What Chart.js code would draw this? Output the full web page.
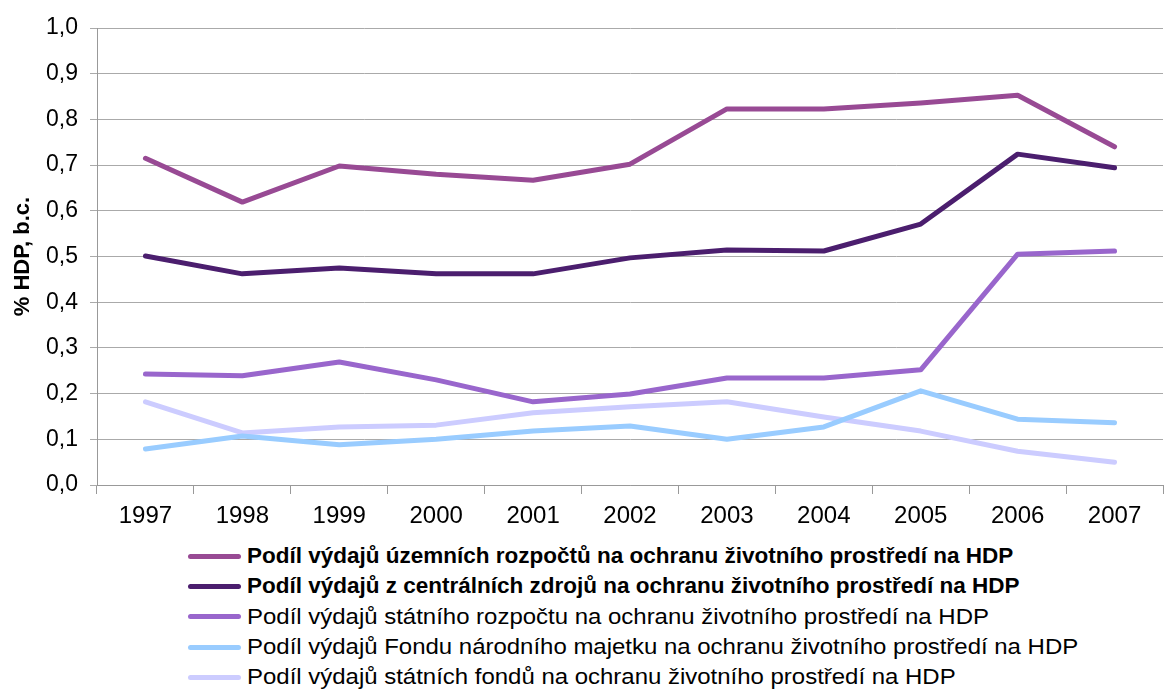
<!DOCTYPE html>
<html>
<head>
<meta charset="utf-8">
<script src="https://cdn.jsdelivr.net/npm/chart.js@4"></script>
<style>
    body { margin: 0; background: #fff; font-family: "Liberation Sans", Arial, sans-serif; }
    #wrap { position: relative; width: 1171px; height: 689px; }
    #legend { position: absolute; left: 188px; top: 541px; }
    .item { display: flex; align-items: center; height: 30.3px; font-size: 22.5px; color: #000; white-space: nowrap; }
    .item .line { display: inline-block; width: 53px; height: 5px; border-radius: 3px; margin-right: 6px; flex: none; }
    .item.bold { font-weight: bold; }
    .item.regular .txt { display: inline-block; transform: scaleX(1.065); transform-origin: left center; }
</style>
</head>
<body>
<div id="wrap">
    <canvas id="hdpChart" width="1171" height="540"></canvas>
    <div id="legend"></div>
</div>
<script>
// Roky (kategorie osy x)
const years = ['1997', '1998', '1999', '2000', '2001', '2002', '2003', '2004', '2005', '2006', '2007'];

// Hodnoty (% HDP)
const uzemniRozpocty = [0.715, 0.619, 0.698, 0.680, 0.667, 0.702, 0.823, 0.823, 0.836, 0.853, 0.740];
const centralniZdroje = [0.501, 0.462, 0.475, 0.462, 0.462, 0.497, 0.514, 0.512, 0.571, 0.724, 0.694];
const statniRozpocet = [0.243, 0.239, 0.269, 0.230, 0.182, 0.199, 0.234, 0.234, 0.252, 0.505, 0.512];
const fondNarMajetku = [0.079, 0.107, 0.088, 0.100, 0.118, 0.129, 0.100, 0.127, 0.206, 0.144, 0.136];
const statniFondy = [0.182, 0.114, 0.127, 0.131, 0.158, 0.171, 0.182, 0.149, 0.118, 0.074, 0.050];

// Popisky řad
const seriesLabels = [
    'Podíl výdajů územních rozpočtů na ochranu životního prostředí na HDP',
    'Podíl výdajů z centrálních zdrojů na ochranu životního prostředí na HDP',
    'Podíl výdajů státního rozpočtu na ochranu životního prostředí na HDP',
    'Podíl výdajů Fondu národního majetku na ochranu životního prostředí na HDP',
    'Podíl výdajů státních fondů na ochranu životního prostředí na HDP'
];
const seriesColors = ['#984A94', '#4B1E6E', '#9966CC', '#99CCFF', '#CCCCFF'];
const boldSeries = [true, true, false, false, false];

const seriesData = [uzemniRozpocty, centralniZdroje, statniRozpocet, fondNarMajetku, statniFondy];

const datasets = seriesData.map((data, i) => ({
    label: seriesLabels[i],
    data: data,
    borderColor: seriesColors[i],
    backgroundColor: seriesColors[i],
    borderWidth: 5,
    pointRadius: 0,
    pointHoverRadius: 0,
    tension: 0,
    borderJoinStyle: 'round',
    borderCapStyle: 'round',
    fill: false
}));

const ctx = document.getElementById('hdpChart').getContext('2d');
new Chart(ctx, {
    type: 'line',
    data: { labels: years, datasets: datasets },
    options: {
        responsive: false,
        animation: false,
        layout: { padding: { top: 28, right: 8, left: 0, bottom: 0 } },
        plugins: {
            legend: { display: false },
            tooltip: { enabled: false }
        },
        scales: {
            x: {
                offset: true,
                grid: {
                    offset: true,
                    drawOnChartArea: false,
                    drawTicks: true,
                    tickLength: 9,
                    color: '#999'
                },
                border: { color: '#999' },
                ticks: {
                    color: '#000',
                    font: { family: '"Liberation Sans", Arial', size: 24 },
                    padding: 8,
                    maxRotation: 0
                },
                afterFit: (scale) => { scale.height = 55; }
            },
            y: {
                min: 0,
                max: 1,
                grid: {
                    color: '#aaa',
                    tickLength: 7
                },
                border: { color: '#999' },
                ticks: {
                    stepSize: 0.1,
                    color: '#000',
                    padding: 12,
                    font: { family: '"Liberation Sans", Arial', size: 23 },
                    callback: (v) => v.toFixed(1).replace('.', ',')
                },
                title: {
                    display: true,
                    text: '% HDP, b.c.',
                    color: '#000',
                    padding: { top: 10, bottom: 0 },
                    font: { family: '"Liberation Sans", Arial', size: 22, weight: 'bold' }
                },
                afterFit: (scale) => { scale.width = 97; }
            }
        }
    }
});

// Legenda pod grafem
const legendEl = document.getElementById('legend');
seriesLabels.forEach((text, i) => {
    const row = document.createElement('div');
    row.className = 'item ' + (boldSeries[i] ? 'bold' : 'regular');
    row.innerHTML = `<span class="line" style="background:${seriesColors[i]}"></span><span class="txt">${text}</span>`;
    legendEl.appendChild(row);
});
</script>
</body>
</html>
